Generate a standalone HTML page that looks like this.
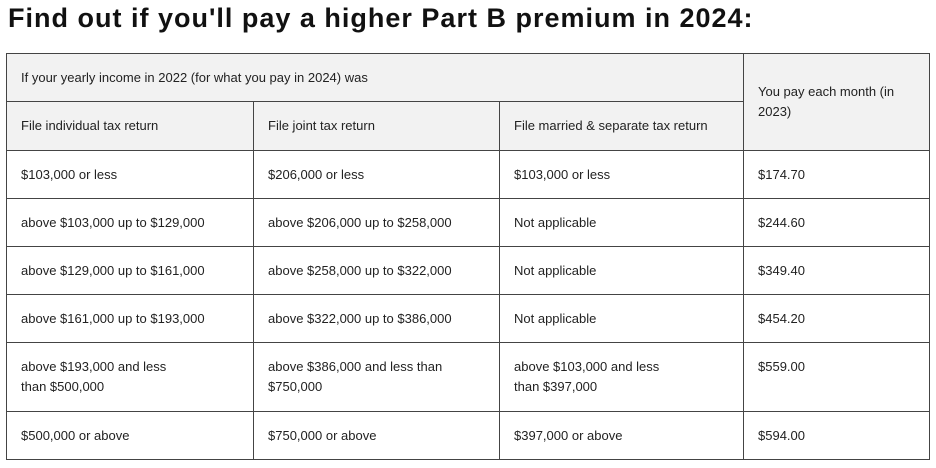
<!DOCTYPE html>
<html><head><meta charset="utf-8"><style>
body{margin:0;width:936px;height:468px;background:#fff;font-family:"Liberation Sans",sans-serif;color:#222;position:relative;overflow:hidden}
h1{position:absolute;left:8px;top:0;margin:0;font-size:27px;line-height:36px;font-weight:bold;color:#111;letter-spacing:1px}
table{position:absolute;left:6px;top:53px;border-collapse:collapse;table-layout:fixed;font-size:13px}
td{border:1px solid #444;vertical-align:top;padding:14px 0 0 14px;line-height:20px;box-sizing:border-box}
.h{background:#f2f2f2}
</style></head><body>
<h1>Find out if you'll pay a higher Part B premium in 2024:</h1>
<table>
<colgroup><col style="width:247px"><col style="width:246px"><col style="width:244px"><col style="width:186px"></colgroup>
<tr style="height:48px"><td class="h" colspan="3">If your yearly income in 2022 (for what you pay in 2024) was</td><td class="h" rowspan="2" style="padding-top:28px">You pay each month (in 2023)</td></tr>
<tr style="height:49px"><td class="h">File individual tax return</td><td class="h">File joint tax return</td><td class="h">File married &amp; separate tax return</td></tr>
<tr style="height:48px"><td>$103,000 or less</td><td>$206,000 or less</td><td>$103,000 or less</td><td>$174.70</td></tr>
<tr style="height:48px"><td>above $103,000 up to $129,000</td><td>above $206,000 up to $258,000</td><td>Not applicable</td><td>$244.60</td></tr>
<tr style="height:48px"><td>above $129,000 up to $161,000</td><td>above $258,000 up to $322,000</td><td>Not applicable</td><td>$349.40</td></tr>
<tr style="height:48px"><td>above $161,000 up to $193,000</td><td>above $322,000 up to $386,000</td><td>Not applicable</td><td>$454.20</td></tr>
<tr style="height:69px"><td>above $193,000 and less<br>than $500,000</td><td>above $386,000 and less than<br>$750,000</td><td>above $103,000 and less<br>than $397,000</td><td>$559.00</td></tr>
<tr style="height:48px"><td>$500,000 or above</td><td>$750,000 or above</td><td>$397,000 or above</td><td>$594.00</td></tr>
</table>
</body></html>
